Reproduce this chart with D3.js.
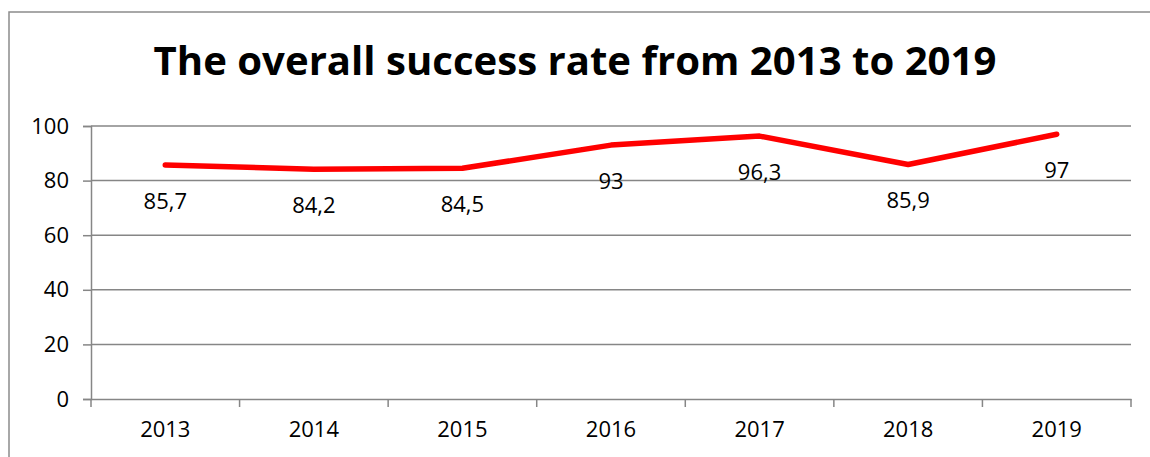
<!DOCTYPE html>
<html>
<head>
<meta charset="utf-8">
<script src="https://cdn.jsdelivr.net/npm/d3@7"></script>
<style>
  body { margin: 0; background: #fff; }
  text { font-family: "Open Sans", sans-serif; fill: #000; }
</style>
</head>
<body>
<div id="chart"></div>
<script>
// The data
var years = ["2013", "2014", "2015", "2016", "2017", "2018", "2019"];
var rates = [85.7, 84.2, 84.5, 93, 96.3, 85.9, 97];
var yTicks = [0, 20, 40, 60, 80, 100];
var title = "The overall success rate from 2013 to 2019";

var width = 1150, height = 457;
var margin = { top: 126, right: 19, bottom: 58, left: 91 };

var svg = d3.select("#chart")
    .append("svg")
    .attr("width", width)
    .attr("height", height);

// outer chart frame (runs off the right and bottom of the picture)
svg.append("rect")
    .attr("x", 9).attr("y", 12)
    .attr("width", width + 20).attr("height", height + 20)
    .attr("fill", "none")
    .attr("stroke", "#8c8c8c")
    .attr("stroke-width", 1.5);

// title, scaled to the width it takes in the reference
var t = svg.append("text")
    .attr("x", 575).attr("y", 75)
    .attr("text-anchor", "middle")
    .style("font-weight", "bold")
    .style("font-size", "40px")
    .text(title);
var tw = t.node().getComputedTextLength();
t.style("font-size", (40 * 843 / tw) + "px");

var x = d3.scaleBand()
    .domain(years)
    .range([margin.left, width - margin.right]);

var y = d3.scaleLinear()
    .domain([0, 100])
    .range([height - margin.bottom, margin.top]);

// horizontal gridlines + y axis
var yAxis = svg.append("g")
    .attr("transform", "translate(" + margin.left + ",0)")
    .call(d3.axisLeft(y).tickValues(yTicks).tickSize(8).tickPadding(14));
yAxis.select(".domain").attr("stroke", "#868686").attr("stroke-width", 1.5);
yAxis.selectAll(".tick line").attr("stroke", "#868686").attr("stroke-width", 1.5);
yAxis.selectAll(".tick text").style("font-size", "22px");

svg.append("g").selectAll("line")
    .data(yTicks.filter(function(d) { return d > 0; }))
    .enter().append("line")
    .attr("x1", margin.left).attr("x2", width - margin.right)
    .attr("y1", function(d) { return y(d); })
    .attr("y2", function(d) { return y(d); })
    .attr("stroke", "#868686")
    .attr("stroke-width", 1.5);

// x axis: labels at the band centres, tick marks at band edges
var xAxis = svg.append("g")
    .attr("transform", "translate(0," + y(0) + ")")
    .call(d3.axisBottom(x).tickSize(0).tickPadding(22).tickSizeOuter(0));
xAxis.select(".domain").attr("stroke", "#868686").attr("stroke-width", 1.5);
xAxis.selectAll(".tick text").style("font-size", "22px");

var edges = years.map(function(d) { return x(d); }).concat([x.range()[1]]);
svg.append("g").selectAll("line")
    .data(edges)
    .enter().append("line")
    .attr("x1", function(d) { return d; })
    .attr("x2", function(d) { return d; })
    .attr("y1", y(0)).attr("y2", y(0) + 8)
    .attr("stroke", "#868686")
    .attr("stroke-width", 1.5);

// the red line
var line = d3.line()
    .x(function(d, i) { return x(years[i]) + x.bandwidth() / 2; })
    .y(function(d) { return y(d); });

svg.append("path")
    .datum(rates)
    .attr("d", line)
    .attr("fill", "none")
    .attr("stroke", "#ff0000")
    .attr("stroke-width", 5.5)
    .attr("stroke-linecap", "round")
    .attr("stroke-linejoin", "round");

// value labels under each point, with a decimal comma
svg.append("g").selectAll("text")
    .data(rates)
    .enter().append("text")
    .attr("x", function(d, i) { return x(years[i]) + x.bandwidth() / 2; })
    .attr("y", function(d) { return y(d) + 44; })
    .attr("text-anchor", "middle")
    .style("font-size", "22px")
    .text(function(d) { return String(d).replace(".", ","); });
</script>
</body>
</html>
